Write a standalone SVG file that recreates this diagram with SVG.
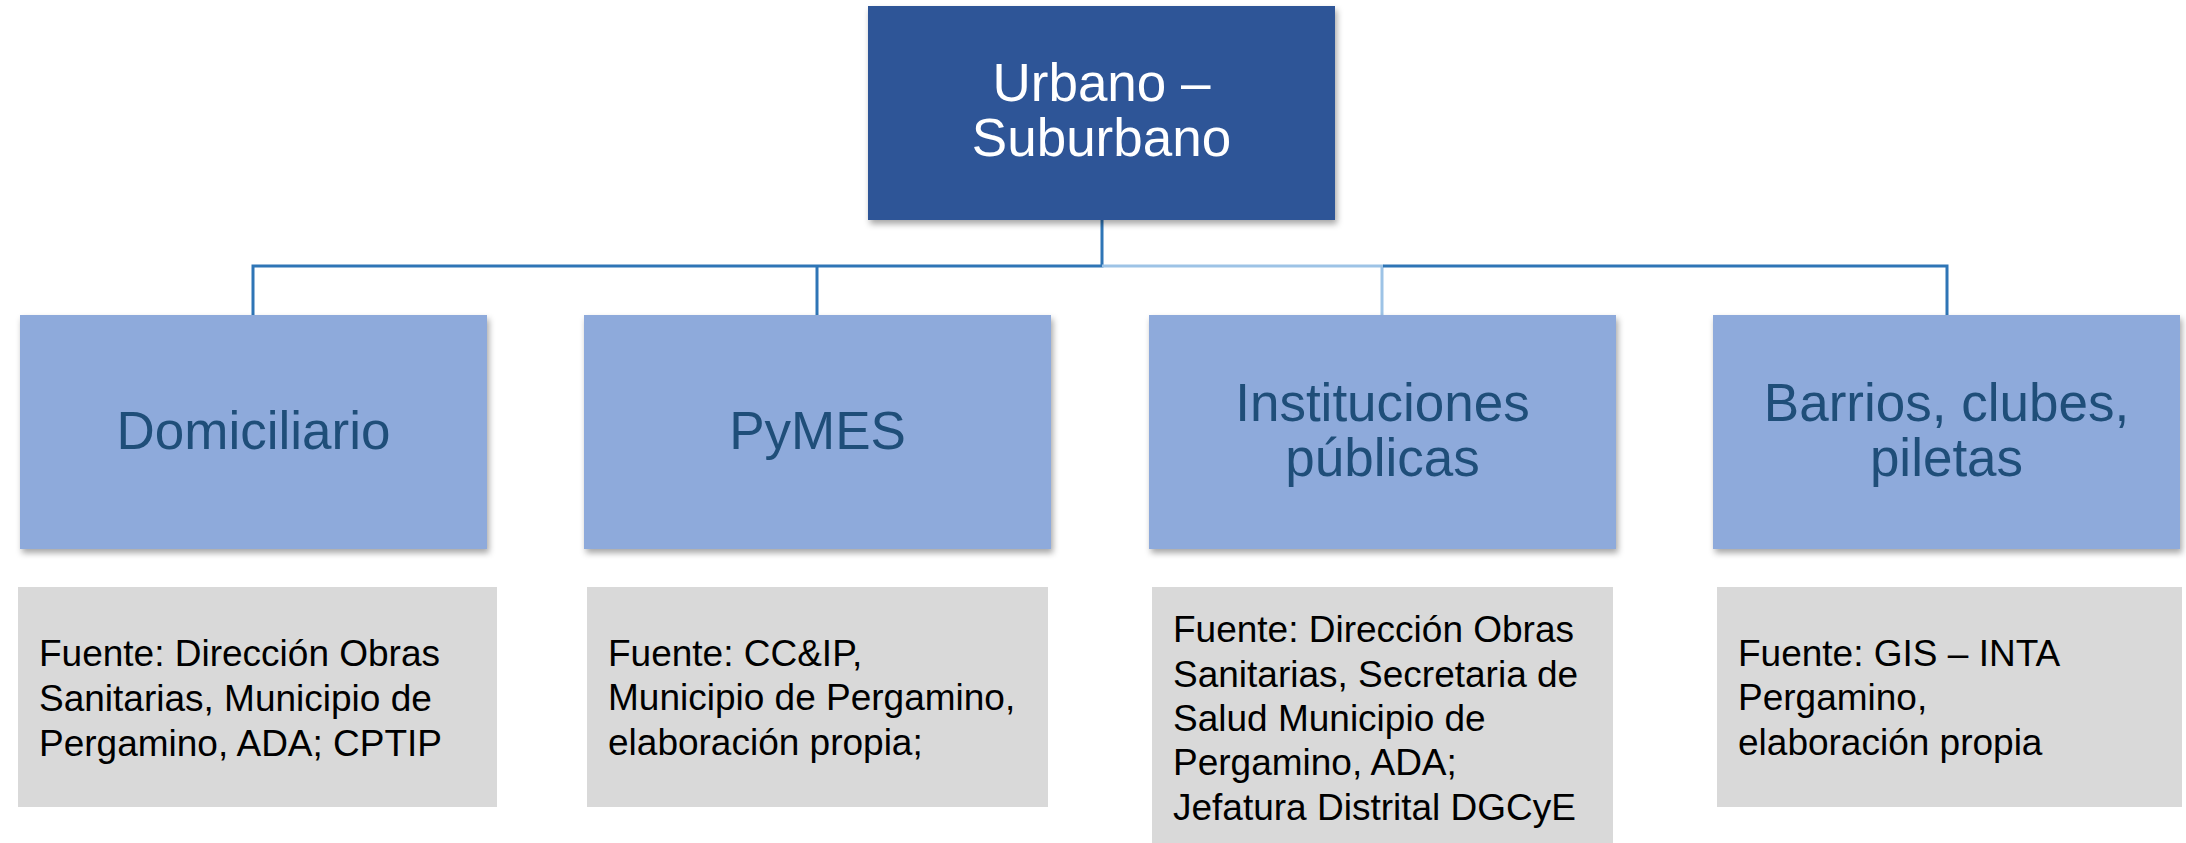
<svg xmlns="http://www.w3.org/2000/svg" width="2186" height="843" viewBox="0 0 2186 843">
<defs>
<filter id="sh" x="-5%" y="-5%" width="112%" height="115%">
<feDropShadow dx="2" dy="4" stdDeviation="3" flood-color="#000" flood-opacity="0.35"/>
</filter>
<style>
.top{fill:#2F5597;filter:url(#sh)}
.node{fill:#8EAADB;filter:url(#sh)}
.src{fill:#D9D9D9}
.tt{font-family:"Liberation Sans",Arial,sans-serif;font-size:53px;fill:#FFFFFF;text-anchor:middle}
.nt{font-family:"Liberation Sans",Arial,sans-serif;font-size:53px;fill:#1F4E79;text-anchor:middle}
.st{font-family:"Liberation Sans",Arial,sans-serif;font-size:37px;fill:#000000}
.dk{stroke:#2E75B6;stroke-width:3;fill:none}
.lt{stroke:#9DC3E6;stroke-width:3;fill:none}
</style>
</defs>
<rect width="2186" height="843" fill="#FFFFFF"/>
<g id="connectors">
<path class="dk" d="M253,315 V266 H1102 V220"/>
<path class="dk" d="M817,266 V315"/>
<path class="lt" d="M1102,266 H1382 V315"/>
<path class="dk" d="M1383,266 H1947 V315"/>
</g>
<g id="node-top">
<rect class="top" x="868" y="6" width="467" height="214"/>
<text class="tt" x="1101.5" y="101">Urbano –</text>
<text class="tt" x="1101.5" y="156">Suburbano</text>
</g>
<g id="node-domiciliario">
<rect class="node" x="20" y="315" width="467" height="234"/>
<text class="nt" x="253.5" y="449">Domiciliario</text>
</g>
<g id="node-pymes">
<rect class="node" x="584" y="315" width="467" height="234"/>
<text class="nt" x="817.5" y="449">PyMES</text>
</g>
<g id="node-instituciones">
<rect class="node" x="1149" y="315" width="467" height="234"/>
<text class="nt" x="1382.5" y="421">Instituciones</text>
<text class="nt" x="1382.5" y="476">públicas</text>
</g>
<g id="node-barrios">
<rect class="node" x="1713" y="315" width="467" height="234"/>
<text class="nt" x="1946.5" y="421">Barrios, clubes,</text>
<text class="nt" x="1946.5" y="476">piletas</text>
</g>
<g id="src-domiciliario">
<rect class="src" x="18" y="587" width="479" height="220"/>
<text class="st" x="39" y="666">Fuente: Dirección Obras</text>
<text class="st" x="39" y="711">Sanitarias, Municipio de</text>
<text class="st" x="39" y="756">Pergamino, ADA; CPTIP</text>
</g>
<g id="src-pymes">
<rect class="src" x="587" y="587" width="461" height="220"/>
<text class="st" x="608" y="666">Fuente: CC&amp;IP,</text>
<text class="st" x="608" y="710">Municipio de Pergamino,</text>
<text class="st" x="608" y="755">elaboración propia;</text>
</g>
<g id="src-instituciones">
<rect class="src" x="1152" y="587" width="461" height="256"/>
<text class="st" x="1173" y="642">Fuente: Dirección Obras</text>
<text class="st" x="1173" y="687">Sanitarias, Secretaria de</text>
<text class="st" x="1173" y="731">Salud Municipio de</text>
<text class="st" x="1173" y="775">Pergamino, ADA;</text>
<text class="st" x="1173" y="820">Jefatura Distrital DGCyE</text>
</g>
<g id="src-barrios">
<rect class="src" x="1717" y="587" width="465" height="220"/>
<text class="st" x="1738" y="666">Fuente: GIS – INTA</text>
<text class="st" x="1738" y="710">Pergamino,</text>
<text class="st" x="1738" y="755">elaboración propia</text>
</g>
</svg>
